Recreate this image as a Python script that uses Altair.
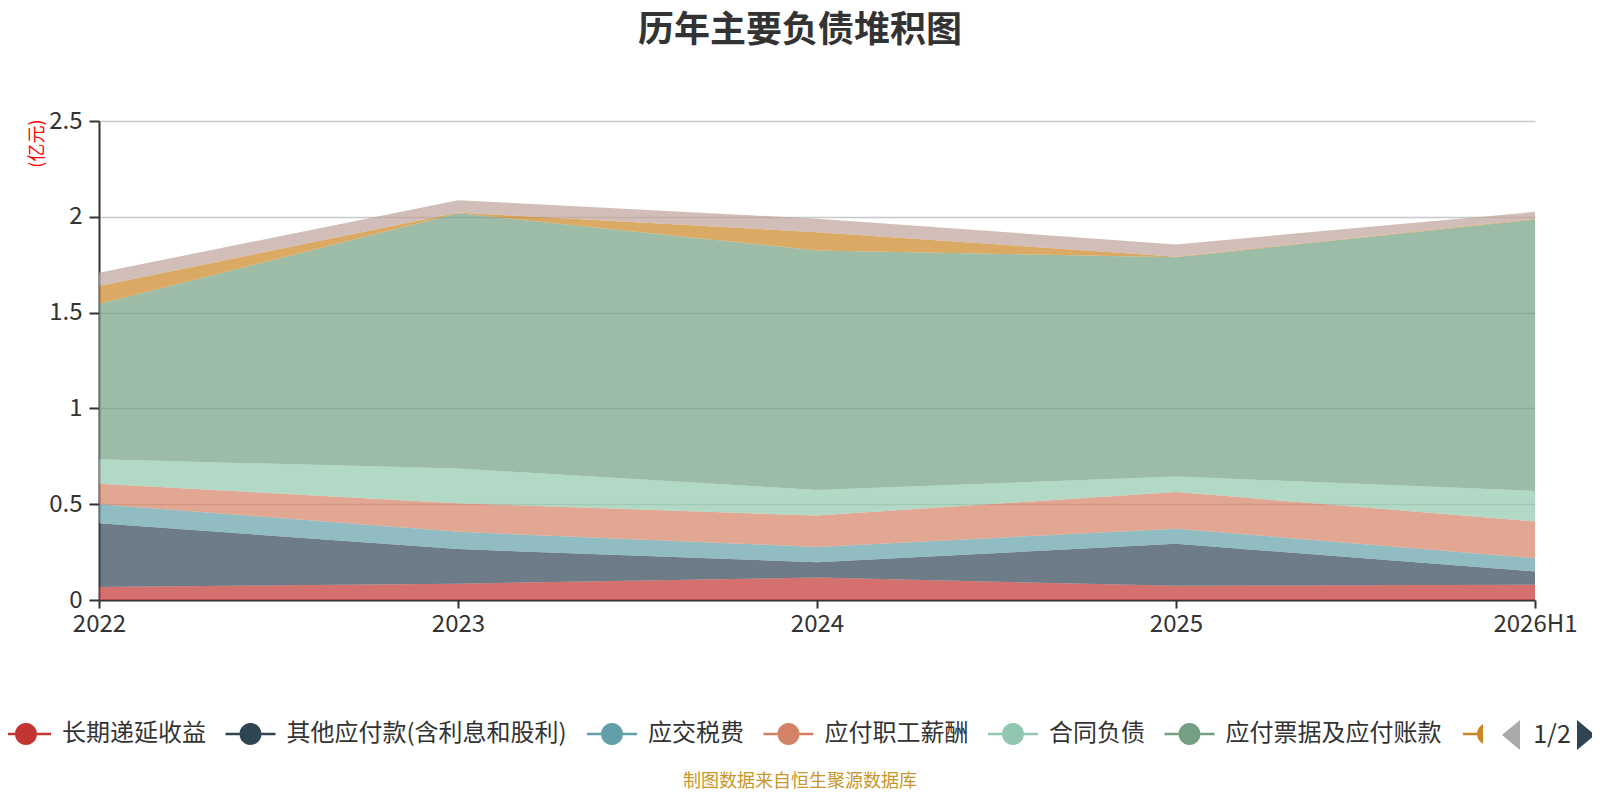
import altair as alt
import pandas as pd

years = ["2022", "2023", "2024", "2025", "2026H1"]

series_names = [
    "长期递延收益",
    "其他应付款(含利息和股利)",
    "应交税费",
    "应付职工薪酬",
    "合同负债",
    "应付票据及应付账款",
    "一年内到期的非流动负债",
    "租赁负债",
]
series_colors = ["#c23531", "#2f4554", "#61a0a8", "#d48265", "#91c7ae", "#749f83", "#ca8622", "#bda29a"]

v_deferred = [0.068, 0.085, 0.117, 0.074, 0.080]
v_other_pay = [0.332, 0.181, 0.080, 0.219, 0.069]
v_tax = [0.100, 0.090, 0.080, 0.079, 0.069]
v_salary = [0.107, 0.149, 0.164, 0.192, 0.192]
v_contract = [0.127, 0.181, 0.133, 0.080, 0.159]
v_notes_ap = [0.811, 1.332, 1.250, 1.145, 1.417]
v_current_ncl = [0.094, 0.004, 0.096, 0.003, 0.004]
v_lease = [0.069, 0.065, 0.070, 0.064, 0.036]

series_values = [v_deferred, v_other_pay, v_tax, v_salary, v_contract, v_notes_ap, v_current_ncl, v_lease]

y_ticks = [0, 0.5, 1, 1.5, 2, 2.5]

rows = []
for i, (name, vals) in enumerate(zip(series_names, series_values)):
    for yr, v in zip(years, vals):
        rows.append({"series": name, "year": yr, "value": v, "idx": i})
df = pd.DataFrame(rows)

FONT = "Noto Sans CJK SC"
TXT = "#333333"

legend_symbol = (
    "M-1,-0.05L-0.44,-0.05L-0.44,0.05L-1,0.05Z "
    "M0.44,-0.05L1,-0.05L1,0.05L0.44,0.05Z "
    "M0.44,0A0.44,0.44 0 1,1 -0.44,0A0.44,0.44 0 1,1 0.44,0Z"
)

areas = alt.Chart(df).mark_area(opacity=0.7, strokeWidth=0, interpolate="linear").encode(
    x=alt.X(
        "year:N",
        sort=years,
        scale=alt.Scale(type="point", padding=0),
        axis=alt.Axis(
            title=None,
            labelAngle=0,
            labelFontSize=24,
            labelColor=TXT,
            labelPadding=4,
            labelFlush=False,
            domainColor=TXT,
            domainWidth=2,
            tickColor=TXT,
            tickWidth=2,
            tickSize=8,
            grid=False,
        ),
    ),
    y=alt.Y(
        "value:Q",
        stack="zero",
        scale=alt.Scale(domain=[0, 2.5], nice=False),
        axis=alt.Axis(
            title="(亿元)",
            titleColor="#ff0000",
            titleFontSize=18,
            titleFontWeight="normal",
            titleAngle=270,
            titleX=-62,
            titleY=-2,
            titleAlign="right",
            titleBaseline="middle",
            values=y_ticks,
            format="~g",
            labelFontSize=24,
            labelColor=TXT,
            labelPadding=7,
            domainColor=TXT,
            domainWidth=2,
            tickColor=TXT,
            tickWidth=2,
            tickSize=10,
            grid=True,
            gridColor="#c8c8c8",
            gridWidth=1.5,
        ),
    ),
    color=alt.Color(
        "series:N",
        sort=series_names,
        scale=alt.Scale(domain=series_names, range=series_colors),
        legend=alt.Legend(
            title=None,
            values=series_names[:6],
            orient="none",
            legendX=-98,
            legendY=588,
            direction="horizontal",
            columns=6,
            symbolType=legend_symbol,
            symbolSize=2500,
            symbolOpacity=1,
            symbolStrokeWidth=0,
            labelFontSize=24,
            labelColor=TXT,
            labelOffset=11,
            labelLimit=500,
            columnPadding=19.5,
        ),
    ),
    order=alt.Order("idx:Q", sort="ascending"),
)

one = pd.DataFrame({"k": [0]})

footer = alt.Chart(one).mark_text(
    text="制图数据来自恒生聚源数据库", fontSize=18, color="#c8962a", align="center", baseline="middle"
).encode(x=alt.value(701), y=alt.value(661))

orange_line = alt.Chart(one).mark_rule(color="#ca8622", strokeWidth=2.5).encode(
    x=alt.value(1364), x2=alt.value(1380), y=alt.value(613)
)
orange_cap = alt.Chart(one).mark_point(
    shape="M-0.2,-0.39A0.44,0.44 0 0,0 -0.2,0.39Z", filled=True, color="#ca8622", opacity=1, size=2500, strokeWidth=0
).encode(x=alt.value(1389), y=alt.value(613))

pager_left = alt.Chart(one).mark_point(
    shape="M0.6,-1L-0.6,0L0.6,1Z", filled=True, color="#aaaaaa", opacity=1, size=900, strokeWidth=0
).encode(x=alt.value(1412), y=alt.value(614))
pager_text = alt.Chart(one).mark_text(
    text="1/2", fontSize=25, color=TXT, align="center", baseline="middle"
).encode(x=alt.value(1453), y=alt.value(614))
pager_right = alt.Chart(one).mark_point(
    shape="M-0.6,-1L0.6,0L-0.6,1Z", filled=True, color="#2f4554", opacity=1, size=900, strokeWidth=0
).encode(x=alt.value(1487), y=alt.value(614))

chart = alt.layer(areas, footer, orange_line, orange_cap, pager_left, pager_text, pager_right).properties(
    width=1436,
    height=479,
    title=alt.TitleParams(
        "历年主要负债堆积图",
        fontSize=36,
        fontWeight="bold",
        color=TXT,
        anchor="middle",
        frame="group",
        offset=59,
        dx=-17,
    ),
    autosize=alt.AutoSizeParams(type="none"),
    padding={"left": 91, "top": 113, "right": 57, "bottom": 192},
).configure(font=FONT).configure_view(stroke=None)

chart.save("out.html", embed_options={"renderer": "svg", "actions": False})
